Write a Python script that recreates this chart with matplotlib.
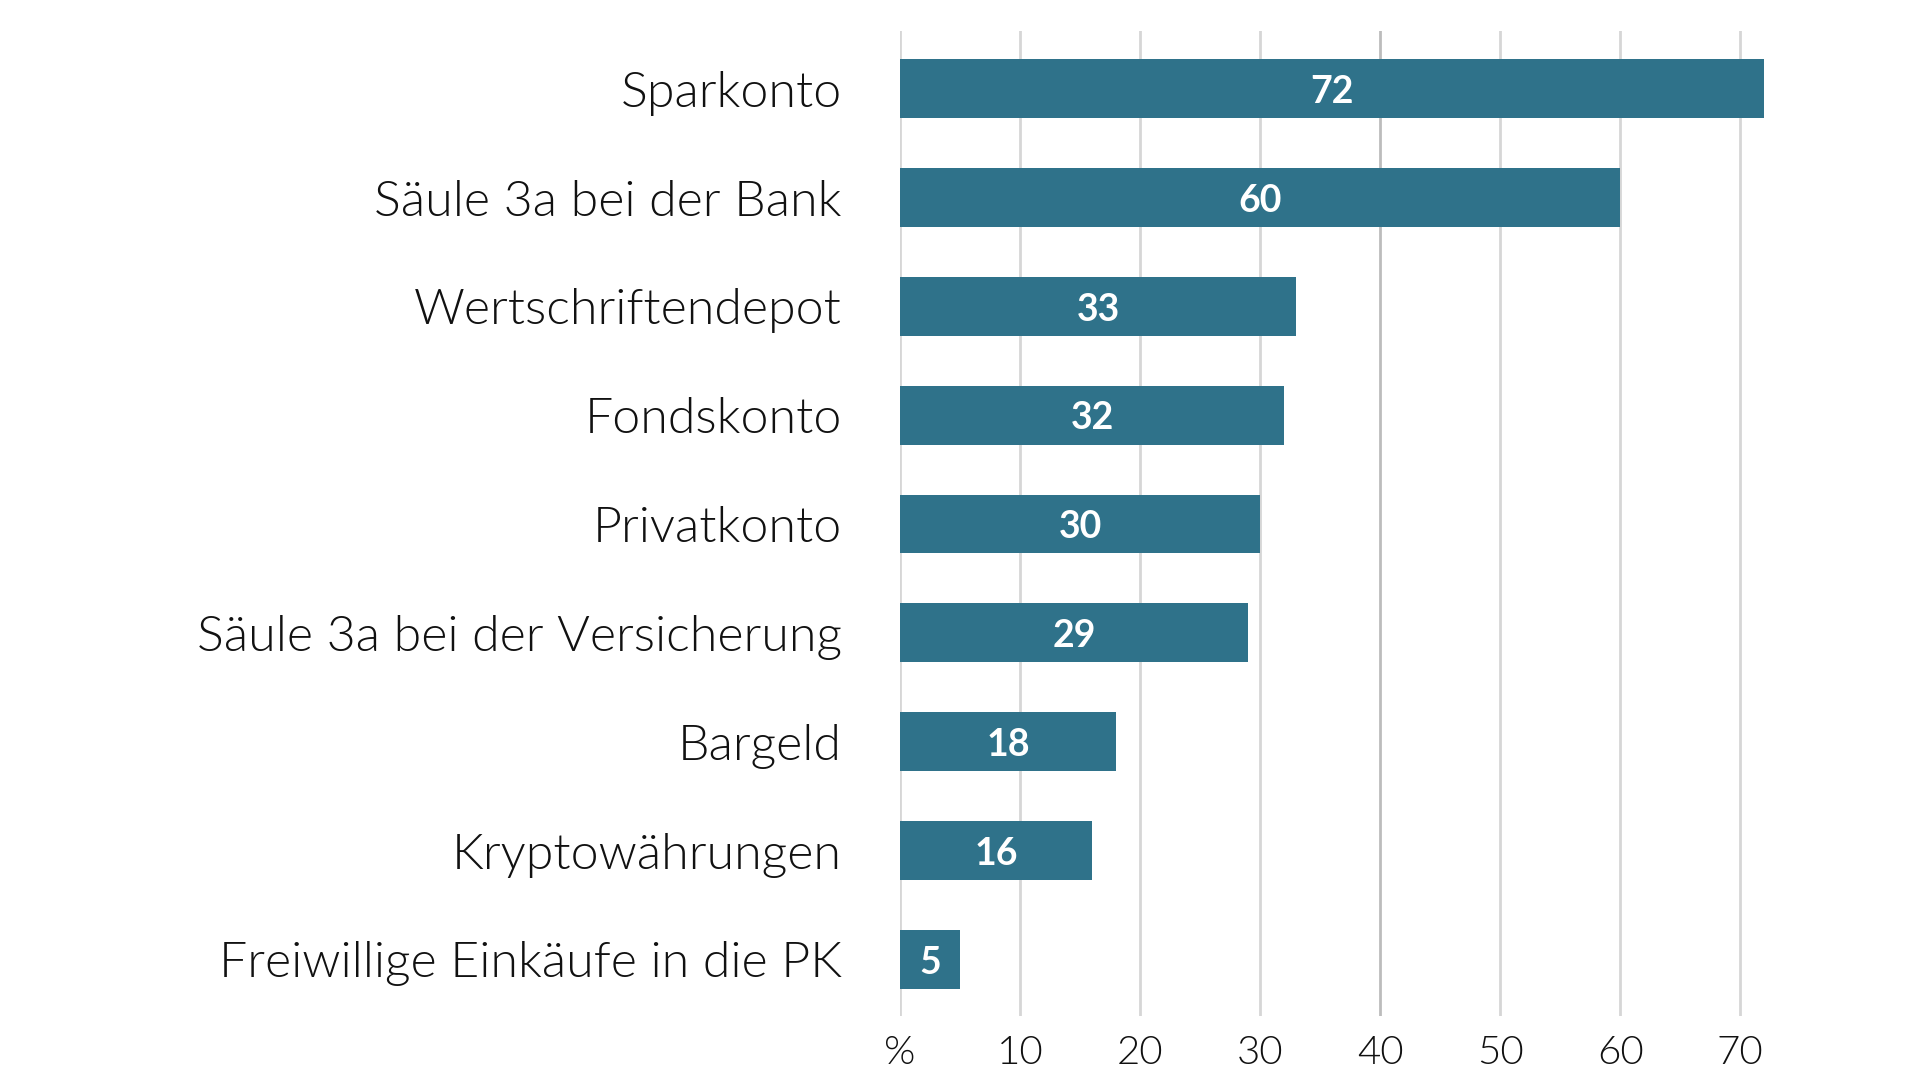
import matplotlib
matplotlib.use("Agg")
import matplotlib.pyplot as plt

categories = ["Sparkonto", "Säule 3a bei der Bank", "Wertschriftendepot", "Fondskonto",
              "Privatkonto", "Säule 3a bei der Versicherung", "Bargeld",
              "Kryptowährungen", "Freiwillige Einkäufe in die PK"]
values = [72, 60, 33, 32, 30, 29, 18, 16, 5]
xticks = [0, 10, 20, 30, 40, 50, 60, 70]
xticklabels = ["%", "10", "20", "30", "40", "50", "60", "70"]

plt.rcParams['font.family'] = ['Lato', 'DejaVu Sans']

fig = plt.figure(figsize=(19.2, 10.8), dpi=100)
ax = fig.add_axes([0.46875, 0.0593, 0.4526, 0.912])

ypos = list(range(len(categories)))
for x in xticks:
    ax.axvline(x, color="#bcbcbc" if x == 40 else "#d6d6d6", lw=2, zorder=0)
ax.barh(ypos, values, height=0.54, color="#2F728A", zorder=2)
for y, v in zip(ypos, values):
    ax.text(v / 2, y + 0.03, str(v), ha="center", va="center", color="white",
            fontsize=27, fontweight=700, zorder=3)

ax.set_xlim(0, 72.4)
ax.set_ylim(len(categories) - 0.48, -0.53)
ax.set_yticks(ypos)
ax.set_yticklabels(categories, fontsize=36, fontweight=300, color="#111111")
ax.set_xticks(xticks)
ax.set_xticklabels(xticklabels, fontsize=29, fontweight=300, color="#111111")
ax.tick_params(axis="y", length=0, pad=42)
ax.tick_params(axis="x", length=0, pad=14)
for s in ax.spines.values():
    s.set_visible(False)

fig.savefig("out.png", dpi=100, facecolor="white")
